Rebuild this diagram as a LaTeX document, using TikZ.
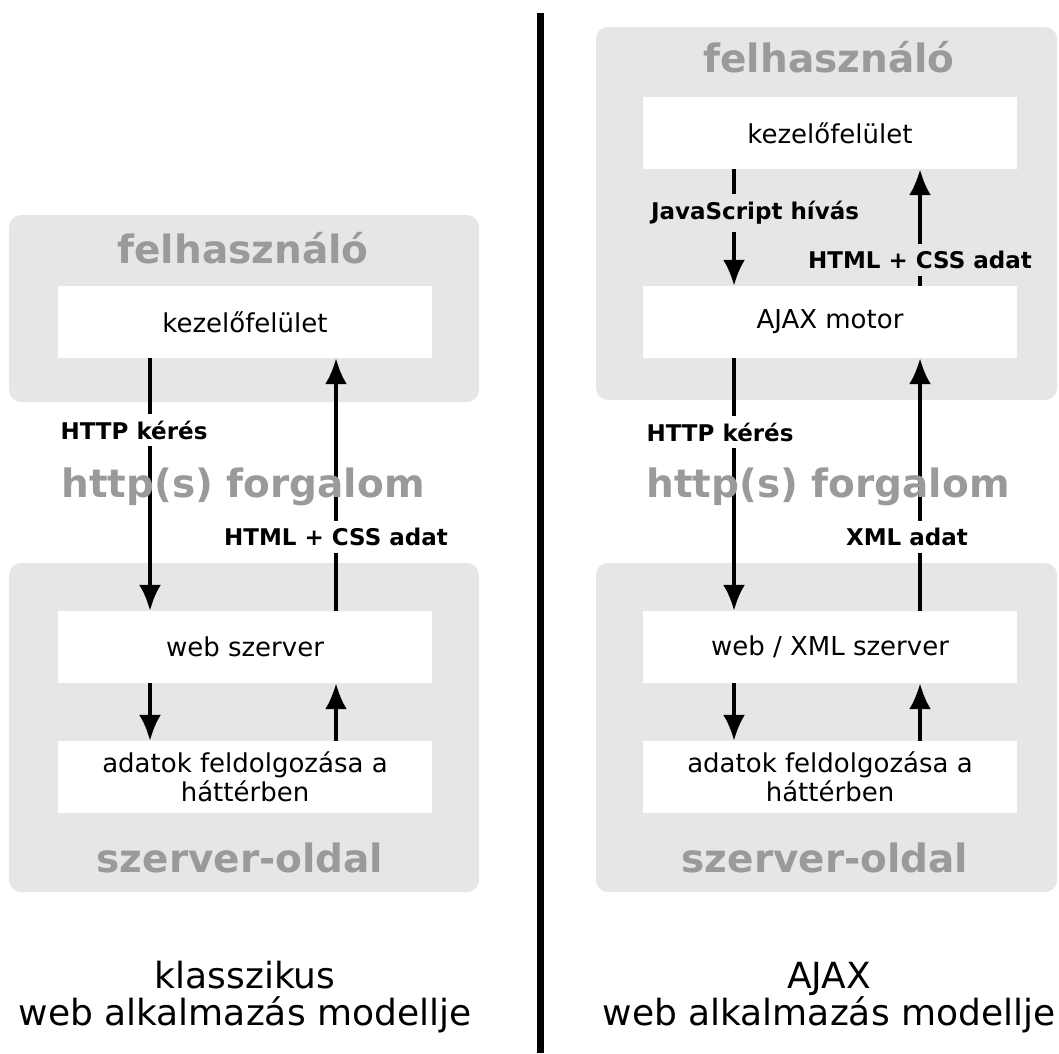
\documentclass[tikz,border=0pt]{standalone}
\usepackage{fontspec}
\setmainfont{DejaVu Sans}
\usetikzlibrary{arrows.meta}
\definecolor{zonegray}{HTML}{E6E6E6}
\definecolor{txtgray}{HTML}{9A9A9A}

\begin{document}
\begin{tikzpicture}[x=1pt, y=-1pt,
    zone/.style={fill=zonegray, rounded corners=12pt},
    box/.style={fill=white, minimum width=374pt, minimum height=72pt, inner sep=0pt,
                align=center, font=\fontsize{26}{29}\selectfont},
    bigtxt/.style={text=txtgray, inner sep=0pt, font=\bfseries\fontsize{39}{39}\selectfont},
    lbl/.style={fill=white, inner sep=7pt, font=\bfseries\fontsize{23}{23}\selectfont},
    arr/.style={line width=4pt, -{Latex[length=26pt,width=22pt]}},
    title/.style={anchor=base, inner sep=0pt, font=\fontsize{36}{37}\selectfont}]
    \useasboundingbox (0,0) rectangle (1059,1053);

    % grey zones
    \fill[zone] (9,215) rectangle (479,402);
    \fill[zone] (9,563) rectangle (479,892);
    \fill[zone] (596,27) rectangle (1057,400);
    \fill[zone] (596,563) rectangle (1057,892);

    % divider
    \draw[line width=7pt] (540,13) -- (540,1053);

    % klasszikus
    \node[box] (kez1) at (245,322) {kezelőfelület};
    \node[box] (srv1) at (245,647) {web szerver};
    \node[box] (dat1) at (245,777) {adatok feldolgozása a\\háttérben};

    % AJAX
    \node[box] (kez2) at (830,133) {kezelőfelület};
    \node[box] (ajax) at (830,322) {AJAX motor};
    \node[box] (srv2) at (830,647) {web / XML szerver};
    \node[box] (dat2) at (830,777) {adatok feldolgozása a\\háttérben};

    \draw[arr] ([xshift=-95pt]kez1.south) -- ([xshift=-95pt]srv1.north);
    \draw[arr] ([xshift=91pt]srv1.north) -- ([xshift=91pt]kez1.south);
    \draw[arr] ([xshift=-96pt]kez2.south) -- ([xshift=-96pt]ajax.north);
    \draw[arr] ([xshift=90pt]ajax.north) -- ([xshift=90pt]kez2.south);
    \draw[arr] ([xshift=-96pt]ajax.south) -- ([xshift=-96pt]srv2.north);
    \draw[arr] ([xshift=90pt]srv2.north) -- ([xshift=90pt]ajax.south);
    \foreach \p/\l/\r in {1/-95/91, 2/-96/90}
        {
            \draw[arr] ([xshift=\l pt]srv\p.south) -- ([xshift=\l pt]dat\p.north);
            \draw[arr] ([xshift=\r pt]dat\p.north) -- ([xshift=\r pt]srv\p.south);
        }

    % labels
    \node[lbl] (req1) at (134,430) {HTTP kérés};
    \node[lbl] (html1) at (336,537) {HTML + CSS adat};
    \node[lbl, fill=zonegray] (js) at (755,213) {JavaScript hívás};
    \node[lbl, fill=zonegray] (html2) at (920,260) {HTML + CSS adat};
    \node[lbl] (req2) at (720,432) {HTTP kérés};
    \node[lbl] (xml) at (907,537) {XML adat};

    \node[bigtxt] (user1) at (243,248) {felhasználó};
    \node[bigtxt] (user2) at (829,57) {felhasználó};
    \node[bigtxt] (net1) at (243,487) {http(s) forgalom};
    \node[bigtxt] (net2) at (828,487) {http(s) forgalom};
    \node[bigtxt] (side1) at (240,858) {szerver-oldal};
    \node[bigtxt] (side2) at (825,858) {szerver-oldal};

    \node[title] (cap1) at (245,988) {klasszikus};
    \node[title] (cap1b) at (245,1025) {web alkalmazás modellje};
    \node[title] (cap2) at (829,988) {AJAX};
    \node[title] (cap2b) at (829,1025) {web alkalmazás modellje};
\end{tikzpicture}
\end{document}
